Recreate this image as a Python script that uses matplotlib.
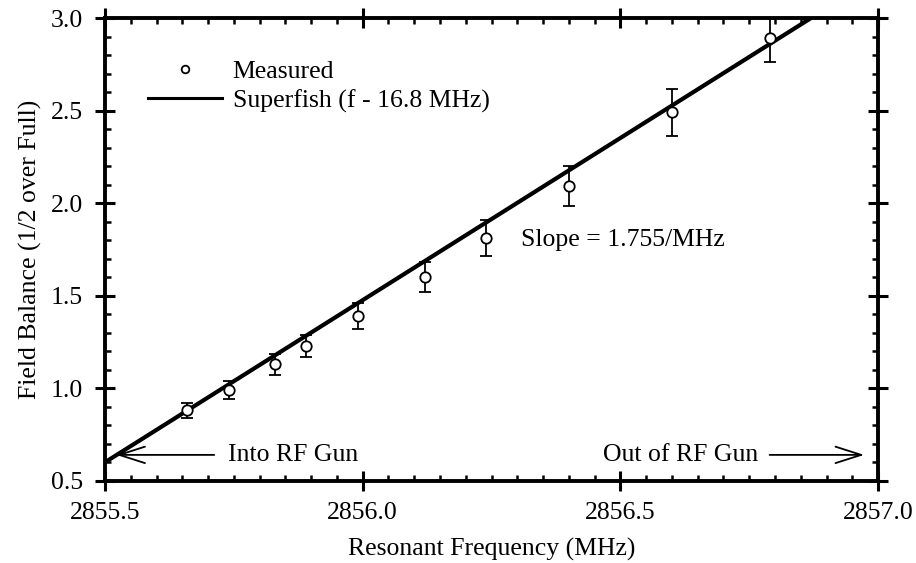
import matplotlib
matplotlib.use("Agg")
import matplotlib.pyplot as plt
from matplotlib.lines import Line2D
from matplotlib.ticker import MultipleLocator, FormatStrFormatter

plt.rcParams['font.family'] = ['Liberation Serif', 'DejaVu Serif']

# measured field balance vs resonant frequency
freq = [2855.66, 2855.74, 2855.83, 2855.89, 2855.99, 2856.12, 2856.24, 2856.40, 2856.60, 2856.79]
balance = [0.88, 0.99, 1.13, 1.23, 1.39, 1.60, 1.81, 2.09, 2.49, 2.89]
balance_err = [0.04, 0.05, 0.057, 0.06, 0.07, 0.08, 0.097, 0.108, 0.125, 0.13]

# superfish prediction (shifted by 16.8 MHz)
sf_freq = [2855.5, 2856.87]
sf_balance = [0.6, 3.0]

FS = 18.5

fig = plt.figure(figsize=(9.16, 5.63), dpi=100)
ax = fig.add_axes([0.1146, 0.146, 0.844, 0.822])

ax.plot(sf_freq, sf_balance, color='black', lw=3.0, solid_capstyle='butt')
ax.errorbar(freq, balance, yerr=balance_err, fmt='o', mfc='white', mec='black',
            ms=7.5, mew=1.3, ecolor='black', elinewidth=1.3, capsize=4, capthick=1.3,
            zorder=3)

ax.set_xlim(2855.5, 2857.0)
ax.set_ylim(0.5, 3.0)
ax.xaxis.set_major_locator(MultipleLocator(0.5))
ax.xaxis.set_minor_locator(MultipleLocator(0.05))
ax.yaxis.set_major_locator(MultipleLocator(0.5))
ax.yaxis.set_minor_locator(MultipleLocator(0.1))
ax.xaxis.set_major_formatter(FormatStrFormatter('%.1f'))
ax.yaxis.set_major_formatter(FormatStrFormatter('%.1f'))

ax.tick_params(which='major', direction='inout', length=14, width=2.2,
               top=True, right=True, labelsize=FS)
ax.tick_params(axis='y', which='major', pad=9)
ax.tick_params(axis='x', which='major', pad=8)
ax.tick_params(which='minor', direction='in', length=4, width=1.8,
               top=True, right=True)
for s in ax.spines.values():
    s.set_linewidth(2.8)

ax.set_xlabel('Resonant Frequency (MHz)', fontsize=FS, labelpad=10)
ax.set_ylabel('Field Balance (1/2 over Full)', fontsize=FS, labelpad=6)

ax.text(2856.307, 1.80, 'Slope = 1.755/MHz', fontsize=FS, va='center', ha='left')

arrow_in = dict(arrowstyle='->, head_length=1.0, head_width=0.32', color='black', lw=1.3,
                shrinkA=8, shrinkB=0)
arrow_out = dict(arrow_in, shrinkA=6)
ax.annotate('Into RF Gun', xy=(2855.522, 0.64), xytext=(2855.739, 0.64),
            fontsize=FS, va='center', ha='left', arrowprops=arrow_in)
ax.annotate('Out of RF Gun', xy=(2856.973, 0.64), xytext=(2856.768, 0.64),
            fontsize=FS, va='center', ha='right', arrowprops=arrow_out)

handles = [Line2D([], [], marker='o', ls='none', mfc='white', mec='black', ms=5.5, mew=1.3),
           Line2D([], [], color='black', lw=2.2)]
ax.legend(handles, ['Measured', 'Superfish (f - 16.8 MHz)'], loc='upper left',
          bbox_to_anchor=(0.042, 0.932), frameon=False, fontsize=FS,
          handlelength=2.9, handletextpad=0.4, labelspacing=0.25, borderaxespad=0)

fig.savefig('out.png', dpi=100)
